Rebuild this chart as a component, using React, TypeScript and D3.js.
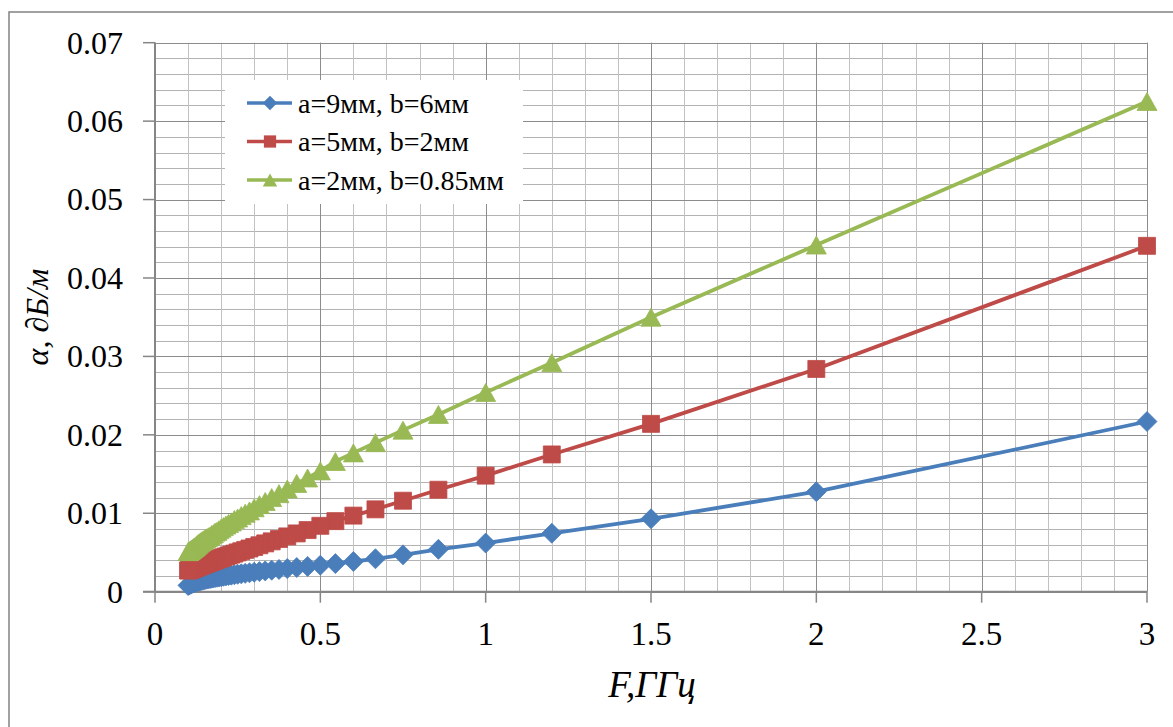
import React from 'react';
import * as d3 from 'd3';

const freqGHz = [3, 2, 1.5, 1.2, 1, 0.8571, 0.75, 0.6667, 0.6, 0.5455, 0.5, 0.4615, 0.4286, 0.4, 0.375, 0.3529, 0.3333, 0.3158, 0.3, 0.2857, 0.2727, 0.2609, 0.25, 0.24, 0.2308, 0.2222, 0.2143, 0.2069, 0.2, 0.1935, 0.1875, 0.1818, 0.1765, 0.1714, 0.1667, 0.1622, 0.1579, 0.1538, 0.15, 0.1463, 0.1429, 0.1395, 0.1364, 0.1333, 0.1304, 0.1277, 0.125, 0.1224, 0.12, 0.1176, 0.1154, 0.1132, 0.1111, 0.1091, 0.1071, 0.1053, 0.1034, 0.1017, 0.1];

const seriesA9B6 = [0.0217, 0.01275, 0.0093, 0.00745, 0.0062, 0.0054, 0.0047, 0.0042, 0.00385, 0.00358, 0.00338, 0.00322, 0.00308, 0.00295, 0.00284, 0.00274, 0.00265, 0.00256, 0.00248, 0.00241, 0.00234, 0.00228, 0.00222, 0.00216, 0.00211, 0.00206, 0.00201, 0.00196, 0.00192, 0.00188, 0.00184, 0.0018, 0.00176, 0.00172, 0.00168, 0.00165, 0.00161, 0.00158, 0.00154, 0.00151, 0.00147, 0.00144, 0.0014, 0.00137, 0.00133, 0.0013, 0.00126, 0.00123, 0.00119, 0.00115, 0.00112, 0.00108, 0.00104, 0.001, 0.00096, 0.00092, 0.00088, 0.00084, 0.0008];

const seriesA5B2 = [0.0441, 0.0284, 0.0214, 0.0175, 0.0148, 0.013, 0.0116, 0.0105, 0.0097, 0.009, 0.0084, 0.00786, 0.00743, 0.00705, 0.00672, 0.00642, 0.00616, 0.00592, 0.0057, 0.00551, 0.00533, 0.00516, 0.00501, 0.00486, 0.00473, 0.00461, 0.00449, 0.00439, 0.00428, 0.00419, 0.0041, 0.00401, 0.00393, 0.00385, 0.00378, 0.00371, 0.00365, 0.00358, 0.00352, 0.00347, 0.00341, 0.00336, 0.00331, 0.00326, 0.00321, 0.00317, 0.00312, 0.00308, 0.00304, 0.003, 0.00296, 0.00293, 0.00289, 0.00286, 0.00282, 0.00279, 0.00276, 0.00273, 0.0027];

const seriesA2B085 = [0.0625, 0.0442, 0.035, 0.0292, 0.0254, 0.0226, 0.0206, 0.019, 0.0177, 0.0166, 0.0154, 0.0145, 0.0138, 0.0131, 0.0125, 0.012, 0.0115, 0.0111, 0.0107, 0.0103, 0.01, 0.0097, 0.0094, 0.0092, 0.0089, 0.0087, 0.0085, 0.0083, 0.0081, 0.0079, 0.0077, 0.0076, 0.0074, 0.0073, 0.0071, 0.007, 0.0069, 0.0068, 0.0067, 0.0066, 0.0065, 0.0064, 0.0063, 0.0062, 0.0061, 0.006, 0.0059, 0.0058, 0.0057, 0.00563, 0.00556, 0.00549, 0.00543, 0.00537, 0.0053, 0.00525, 0.00519, 0.00514, 0.0051];

const seriesNames = ['a=9мм, b=6мм', 'a=5мм, b=2мм', 'a=2мм, b=0.85мм'];
const seriesColors = ['#4A7EBB', '#BE4B48', '#98B954'];
const seriesMarkers = ['diamond', 'square', 'triangle'];

const xTickLabels = ['0', '0.5', '1', '1.5', '2', '2.5', '3'];
const yTickLabels = ['0', '0.01', '0.02', '0.03', '0.04', '0.05', '0.06', '0.07'];

const xAxisTitle = 'F,ГГц';
const yAxisTitle = 'α, ∂Б/м';

const W = 1173;
const H = 727;
const FONT = '"Liberation Serif", "Times New Roman", serif';

function markerPath(kind: string, cx: number, cy: number, s: number = 1): string {
  const p = d3.path();
  if (kind === 'diamond') {
    const r = 10 * s;
    p.moveTo(cx, cy - r);
    p.lineTo(cx + r, cy);
    p.lineTo(cx, cy + r);
    p.lineTo(cx - r, cy);
    p.closePath();
  } else if (kind === 'square') {
    const h = 8.5 * s;
    p.rect(cx - h, cy - h, 2 * h, 2 * h);
  } else {
    const hw = 10 * s;
    const hh = 9 * s;
    p.moveTo(cx, cy - hh);
    p.lineTo(cx + hw, cy + hh);
    p.lineTo(cx - hw, cy + hh);
    p.closePath();
  }
  return p.toString();
}

export default function App() {
  const x = d3.scaleLinear().domain([0, 3]).range([155, 1147]);
  const y = d3.scaleLinear().domain([0, 0.07]).range([591.7, 42.7]);

  const xMinor = d3.range(0, 31).map((i) => i / 10);
  const yMinor = d3.range(0, 36).map((i) => i * 0.002);
  const xMajor = xTickLabels.map((t) => +t);
  const yMajor = yTickLabels.map((t) => +t);

  const allSeries = [seriesA9B6, seriesA5B2, seriesA2B085];
  const line = d3
    .line<[number, number]>()
    .x((d) => x(d[0]))
    .y((d) => y(d[1]));

  const legendX = 225;
  const legendY = 80;
  const legendW = 298;
  const legendH = 124;
  const rowH = 38.5;

  const textStyle = { fontFamily: FONT } as React.CSSProperties;

  return (
    <svg
      width={W}
      height={H}
      viewBox={`0 0 ${W} ${H}`}
      style={{ position: 'absolute', left: 0, top: 0, background: '#fff' }}
    >
      <rect x={0} y={0} width={W} height={H} fill="#fff" />
      <rect x={9} y={12} width={W + 20} height={H + 20} fill="#fff" stroke="#8a8a8a" strokeWidth={1.6} />

      {yMinor.map((v, i) => (
        <line key={'ym' + i} x1={x(0)} x2={x(3)} y1={Math.round(y(v)) + 0.5} y2={Math.round(y(v)) + 0.5} stroke="#b3b3b3" strokeWidth={1} />
      ))}
      {xMinor.map((v, i) => (
        <line key={'xm' + i} x1={Math.round(x(v)) + 0.5} x2={Math.round(x(v)) + 0.5} y1={y(0.07)} y2={y(0)} stroke="#c2c2c2" strokeWidth={1} />
      ))}
      {yMajor.map((v, i) => (
        <line key={'yM' + i} x1={x(0)} x2={x(3)} y1={Math.round(y(v)) + 0.5} y2={Math.round(y(v)) + 0.5} stroke="#8c8c8c" strokeWidth={1} />
      ))}
      {xMajor.map((v, i) => (
        <line key={'xM' + i} x1={Math.round(x(v)) + 0.5} x2={Math.round(x(v)) + 0.5} y1={y(0.07)} y2={y(0)} stroke="#8c8c8c" strokeWidth={1} />
      ))}

      <line x1={x(0)} x2={x(0)} y1={y(0.07)} y2={y(0)} stroke="#868686" strokeWidth={2} />
      <line x1={x(0) - 12} x2={x(3)} y1={y(0)} y2={y(0)} stroke="#868686" strokeWidth={2} />
      {yMajor.map((v, i) => (
        <line key={'yt' + i} x1={x(0) - 12} x2={x(0)} y1={y(v)} y2={y(v)} stroke="#868686" strokeWidth={1.5} />
      ))}
      {xMajor.map((v, i) => (
        <line key={'xt' + i} x1={x(v)} x2={x(v)} y1={y(0)} y2={y(0) + 11} stroke="#868686" strokeWidth={1.5} />
      ))}

      {yTickLabels.map((t, i) => (
        <text key={'yl' + i} x={123} y={y(+t)} dy="0.34em" textAnchor="end" style={textStyle} fontSize={32} fill="#000">
          {t}
        </text>
      ))}
      {xTickLabels.map((t, i) => (
        <text key={'xl' + i} x={x(+t)} y={645} textAnchor="middle" style={textStyle} fontSize={33} fill="#000">
          {t}
        </text>
      ))}

      <text x={652} y={697} textAnchor="middle" style={textStyle} fontStyle="italic" fontSize={37} fill="#000">
        {xAxisTitle}
      </text>
      <text
        transform={`translate(48, 317) rotate(-90)`}
        textAnchor="middle"
        style={textStyle}
        fontStyle="italic"
        fontSize={32}
        fill="#000"
      >
        {yAxisTitle}
      </text>

      {allSeries.map((vals, si) => {
        const pts: [number, number][] = freqGHz.map((f, i) => [f, vals[i]]);
        return (
          <g key={'s' + si}>
            <path d={line(pts) || ''} fill="none" stroke={seriesColors[si]} strokeWidth={3.8} strokeLinejoin="round" />
            {pts.map((p, i) => (
              <path key={i} d={markerPath(seriesMarkers[si], x(p[0]), y(p[1]))} fill={seriesColors[si]} stroke={seriesColors[si]} strokeWidth={0.8} />
            ))}
          </g>
        );
      })}

      <rect x={legendX} y={legendY} width={legendW} height={legendH} fill="#fff" />
      {seriesNames.map((name, i) => {
        const cy = legendY + 23 + i * rowH;
        return (
          <g key={'lg' + i}>
            <line x1={legendX + 22} x2={legendX + 67} y1={cy} y2={cy} stroke={seriesColors[i]} strokeWidth={3.5} />
            <path d={markerPath(seriesMarkers[i], legendX + 45, cy, 0.72)} fill={seriesColors[i]} />
            <text x={legendX + 73} y={cy} dy="0.35em" style={textStyle} fontSize={28} fill="#000">
              {name}
            </text>
          </g>
        );
      })}
    </svg>
  );
}
